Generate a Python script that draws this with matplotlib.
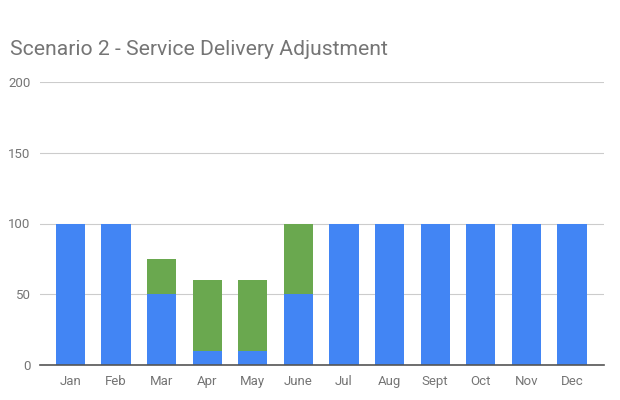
import numpy as np
import matplotlib.pyplot as plt

months = ['Jan', 'Feb', 'Mar', 'Apr', 'May', 'June', 'Jul', 'Aug', 'Sept', 'Oct', 'Nov', 'Dec']
base = [100, 100, 50, 10, 10, 50, 100, 100, 100, 100, 100, 100]
adjust = [0, 0, 25, 50, 50, 50, 0, 0, 0, 0, 0, 0]

plt.rcParams['font.family'] = ['Roboto', 'DejaVu Sans']

fig = plt.figure(figsize=(6.2, 4.0), dpi=100)
ax = fig.add_axes([0.065, 0.0875, 0.909, 0.7075])

x = np.arange(len(months))
ax.bar(x, base, width=0.64, color='#4285F4', zorder=3)
ax.bar(x, adjust, width=0.64, bottom=base, color='#6AA84F', zorder=3)

ax.set_xlim(-0.66, len(months) - 0.3)
ax.set_ylim(0, 200)
ax.set_yticks([0, 50, 100, 150, 200])
ax.set_xticks(x)
ax.set_xticklabels(months)
ax.grid(axis='y', color='#cccccc', linewidth=0.8, zorder=0)
for s in ['top', 'right', 'left']:
    ax.spines[s].set_visible(False)
ax.spines['bottom'].set_color('#555555')
ax.spines['bottom'].set_linewidth(1.2)
ax.spines['bottom'].set_zorder(4)
ax.tick_params(axis='both', length=0, colors='#757575', labelsize=9.5)
ax.tick_params(axis='x', pad=7)
ax.tick_params(axis='y', pad=7)

fig.text(0.016, 0.8625, 'Scenario 2 - Service Delivery Adjustment', fontsize=15.2,
         color='#757575', va='baseline')

fig.savefig('out.png', dpi=100)
